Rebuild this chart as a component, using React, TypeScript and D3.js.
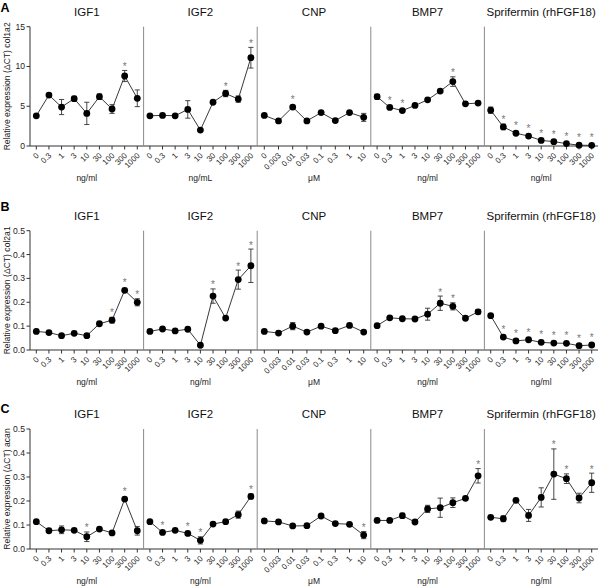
import React from "react";
import * as d3 from "d3";

// ---------- Data ----------
const concNg = ["0", "0.3", "1", "3", "10", "30", "100", "300", "1000"];
const concUM = ["0", "0.003", "0.01", "0.03", "0.1", "0.3", "1", "10"];

const panelTitles = ["IGF1", "IGF2", "CNP", "BMP7", "Sprifermin (rhFGF18)"];
const rowLetters = ["A", "B", "C"];
const rowGenes = ["col1a2", "col2a1", "acan"];
const unitsRowA = ["ng/ml", "ng/mL", "μM", "ng/ml", "ng/ml"];
const unitsRowB = ["ng/ml", "ng/ml", "μM", "ng/ml", "ng/ml"];
const unitsRowC = ["ng/ml", "ng/ml", "μM", "ng/ml", "ng/ml"];

const yTicksA = [0, 5, 10, 15];
const yTicksBC = [0, 0.1, 0.2, 0.3, 0.4, 0.5];

// Row A: col1a2
const aIGF1 = [3.8, 6.4, 4.9, 5.95, 4.1, 6.2, 4.65, 8.8, 6.0];
const aIGF1Err = [0.15, 0.2, 0.95, 0.3, 1.4, 0.35, 0.55, 0.7, 1.05];
const aIGF1Sig = [7];
const aIGF2 = [3.8, 3.85, 3.8, 4.6, 2.0, 5.5, 6.6, 5.9, 11.1];
const aIGF2Err = [0.1, 0.1, 0.1, 1.1, 0.1, 0.15, 0.4, 0.4, 1.3];
const aIGF2Sig = [6, 8];
const aCNP = [3.85, 3.15, 4.9, 3.15, 4.2, 3.2, 4.2, 3.6];
const aCNPErr = [0.1, 0.1, 0.15, 0.1, 0.1, 0.1, 0.1, 0.5];
const aCNPSig = [2];
const aBMP7 = [6.2, 4.85, 4.45, 5.1, 5.8, 6.9, 8.1, 5.3, 5.4];
const aBMP7Err = [0.3, 0.15, 0.15, 0.1, 0.1, 0.1, 0.6, 0.1, 0.1];
const aBMP7Sig = [1, 2, 6];
const aSpri = [4.5, 2.4, 1.6, 1.25, 0.7, 0.55, 0.3, 0.1, 0.08];
const aSpriErr = [0.4, 0.35, 0.15, 0.1, 0.1, 0.1, 0.1, 0.05, 0.05];
const aSpriSig = [1, 2, 3, 4, 5, 6, 7, 8];

// Row B: col2a1
const bIGF1 = [0.078, 0.073, 0.06, 0.07, 0.06, 0.11, 0.125, 0.25, 0.2];
const bIGF1Err = [0.003, 0.003, 0.003, 0.003, 0.008, 0.004, 0.012, 0.008, 0.015];
const bIGF1Sig = [6, 7, 8];
const bIGF2 = [0.078, 0.088, 0.08, 0.087, 0.02, 0.226, 0.134, 0.295, 0.353];
const bIGF2Err = [0.003, 0.003, 0.003, 0.003, 0.003, 0.03, 0.006, 0.04, 0.07];
const bIGF2Sig = [5, 7, 8];
const bCNP = [0.078, 0.071, 0.1, 0.075, 0.1, 0.081, 0.103, 0.075];
const bCNPErr = [0.003, 0.003, 0.015, 0.003, 0.003, 0.003, 0.003, 0.003];
const bCNPSig: number[] = [];
const bBMP7 = [0.102, 0.135, 0.131, 0.13, 0.15, 0.196, 0.183, 0.133, 0.16];
const bBMP7Err = [0.003, 0.004, 0.003, 0.003, 0.025, 0.03, 0.015, 0.003, 0.01];
const bBMP7Sig = [5, 6];
const bSpri = [0.144, 0.054, 0.038, 0.043, 0.032, 0.029, 0.028, 0.018, 0.021];
const bSpriErr = [0.003, 0.004, 0.003, 0.003, 0.003, 0.003, 0.003, 0.003, 0.003];
const bSpriSig = [1, 2, 3, 4, 5, 6, 7, 8];

// Row C: acan
const cIGF1 = [0.114, 0.076, 0.08, 0.078, 0.051, 0.083, 0.067, 0.208, 0.076];
const cIGF1Err = [0.003, 0.003, 0.016, 0.003, 0.02, 0.003, 0.003, 0.005, 0.018];
const cIGF1Sig = [4, 7];
const cIGF2 = [0.114, 0.069, 0.078, 0.065, 0.036, 0.104, 0.114, 0.143, 0.219];
const cIGF2Err = [0.003, 0.003, 0.003, 0.003, 0.015, 0.003, 0.003, 0.015, 0.01];
const cIGF2Sig = [1, 3, 4, 8];
const cCNP = [0.117, 0.113, 0.096, 0.097, 0.1375, 0.106, 0.103, 0.058];
const cCNPErr = [0.003, 0.003, 0.003, 0.003, 0.003, 0.003, 0.003, 0.015];
const cCNPSig = [7];
const cBMP7 = [0.119, 0.119, 0.139, 0.1125, 0.167, 0.172, 0.193, 0.211, 0.305];
const cBMP7Err = [0.003, 0.003, 0.01, 0.006, 0.015, 0.04, 0.02, 0.008, 0.03];
const cBMP7Sig = [8];
const cSpri = [0.132, 0.126, 0.203, 0.14, 0.215, 0.312, 0.293, 0.2125, 0.276];
const cSpriErr = [0.003, 0.012, 0.003, 0.025, 0.04, 0.105, 0.02, 0.02, 0.04];
const cSpriSig = [5, 6, 8];

// ---------- Layout ----------
const W = 599;
const H = 587;
const LEFT = 30;
const RIGHT = 598;
const ROW_TOP = [26.7, 230.7, 429];
const ROW_BOTTOM = [146, 350, 549];
const LETTER_Y = [11.5, 211, 413];
const FONT = "'Liberation Sans', Arial, Helvetica, sans-serif";

type Panel = { vals: number[]; errs: number[]; sig: number[]; cats: string[] };

const rows: { panels: Panel[]; ticks: number[]; max: number; units: string[]; fmt: (v: number) => string }[] = [
  {
    panels: [
      { vals: aIGF1, errs: aIGF1Err, sig: aIGF1Sig, cats: concNg },
      { vals: aIGF2, errs: aIGF2Err, sig: aIGF2Sig, cats: concNg },
      { vals: aCNP, errs: aCNPErr, sig: aCNPSig, cats: concUM },
      { vals: aBMP7, errs: aBMP7Err, sig: aBMP7Sig, cats: concNg },
      { vals: aSpri, errs: aSpriErr, sig: aSpriSig, cats: concNg },
    ],
    ticks: yTicksA,
    max: 15,
    units: unitsRowA,
    fmt: d3.format("d"),
  },
  {
    panels: [
      { vals: bIGF1, errs: bIGF1Err, sig: bIGF1Sig, cats: concNg },
      { vals: bIGF2, errs: bIGF2Err, sig: bIGF2Sig, cats: concNg },
      { vals: bCNP, errs: bCNPErr, sig: bCNPSig, cats: concUM },
      { vals: bBMP7, errs: bBMP7Err, sig: bBMP7Sig, cats: concNg },
      { vals: bSpri, errs: bSpriErr, sig: bSpriSig, cats: concNg },
    ],
    ticks: yTicksBC,
    max: 0.5,
    units: unitsRowB,
    fmt: d3.format(".1f"),
  },
  {
    panels: [
      { vals: cIGF1, errs: cIGF1Err, sig: cIGF1Sig, cats: concNg },
      { vals: cIGF2, errs: cIGF2Err, sig: cIGF2Sig, cats: concNg },
      { vals: cCNP, errs: cCNPErr, sig: cCNPSig, cats: concUM },
      { vals: cBMP7, errs: cBMP7Err, sig: cBMP7Sig, cats: concNg },
      { vals: cSpri, errs: cSpriErr, sig: cSpriSig, cats: concNg },
    ],
    ticks: yTicksBC,
    max: 0.5,
    units: unitsRowC,
    fmt: d3.format(".1f"),
  },
];

const panelBand = d3
  .scaleBand<number>()
  .domain(d3.range(5))
  .range([LEFT, RIGHT])
  .paddingInner(0)
  .paddingOuter(0);

function Row({ ri }: { ri: number }) {
  const row = rows[ri];
  const top = ROW_TOP[ri];
  const bottom = ROW_BOTTOM[ri];
  const y = d3.scaleLinear().domain([0, row.max]).range([bottom, top]);
  const pw = panelBand.bandwidth();
  const lineGen = (x: d3.ScalePoint<string>, p: Panel) =>
    d3
      .line<number>()
      .x((_, i) => x(p.cats[i]) as number)
      .y((v) => y(v))(p.vals) as string;

  return (
    <g>
      <text x={0.5} y={LETTER_Y[ri]} fontFamily={FONT} fontWeight="bold" fontSize={12.5} fill="#000">
        {rowLetters[ri]}
      </text>
      <text
        transform={`translate(10,${(top + bottom) / 2}) rotate(-90)`}
        textAnchor="middle"
        fontFamily={FONT}
        fontSize={8.6}
        fill="#222"
      >
        {`Relative expression (ΔCT) ${rowGenes[ri]}`}
      </text>
      <line x1={LEFT} x2={LEFT} y1={top} y2={bottom} stroke="#333" strokeWidth={1} />
      {row.ticks.map((t) => (
        <g key={t}>
          <line x1={LEFT - 3.5} x2={LEFT} y1={y(t)} y2={y(t)} stroke="#333" strokeWidth={1} />
          <text
            x={LEFT - 5}
            y={y(t)}
            dy="0.35em"
            textAnchor="end"
            fontFamily={FONT}
            fontSize={8.6}
            fill="#222"
          >
            {row.fmt(t)}
          </text>
        </g>
      ))}
      <line x1={LEFT} x2={RIGHT} y1={bottom} y2={bottom} stroke="#333" strokeWidth={1} />
      {row.panels.map((p, pi) => {
        const x0 = panelBand(pi) as number;
        const x = d3.scalePoint<string>().domain(p.cats).range([x0, x0 + pw]).padding(0.5);
        return (
          <g key={pi}>
            {pi > 0 && (
              <line x1={x0} x2={x0} y1={top} y2={bottom} stroke="#8a8a8a" strokeWidth={1} />
            )}
            <text
              x={x0 + pw / 2}
              y={top - 11}
              textAnchor="middle"
              fontFamily={FONT}
              fontSize={11.5}
              fill="#111"
            >
              {panelTitles[pi]}
            </text>
            {p.cats.map((c) => (
              <g key={c}>
                <line
                  x1={x(c)}
                  x2={x(c)}
                  y1={bottom}
                  y2={bottom + 3.5}
                  stroke="#333"
                  strokeWidth={1}
                />
                <text
                  transform={`translate(${(x(c) as number) + 3},${bottom + 10}) rotate(-45)`}
                  textAnchor="end"
                  fontFamily={FONT}
                  fontSize={8}
                  fill="#222"
                >
                  {c}
                </text>
              </g>
            ))}
            <text
              x={x0 + pw / 2}
              y={bottom + 35}
              textAnchor="middle"
              fontFamily={FONT}
              fontSize={8.5}
              fill="#222"
            >
              {row.units[pi]}
            </text>
            <path d={lineGen(x, p)} fill="none" stroke="#222" strokeWidth={0.9} />
            {p.vals.map((v, i) => {
              const cx = x(p.cats[i]) as number;
              const e = p.errs[i];
              return (
                <g key={i}>
                  <line x1={cx} x2={cx} y1={y(v - e)} y2={y(v + e)} stroke="#333" strokeWidth={0.9} />
                  <line x1={cx - 2.6} x2={cx + 2.6} y1={y(v + e)} y2={y(v + e)} stroke="#333" strokeWidth={0.9} />
                  <line x1={cx - 2.6} x2={cx + 2.6} y1={y(Math.max(0, v - e))} y2={y(Math.max(0, v - e))} stroke="#333" strokeWidth={0.9} />
                  <circle cx={cx} cy={y(v)} r={3.4} fill="#000" />
                </g>
              );
            })}
            {p.sig.map((i) => {
              const cx = x(p.cats[i]) as number;
              const topY = Math.min(y(p.vals[i] + p.errs[i]), y(p.vals[i]) - 3.4);
              return (
                <text
                  key={`s${i}`}
                  x={cx}
                  y={topY - 0.5}
                  textAnchor="middle"
                  fontFamily={FONT}
                  fontSize={10}
                  fill="#777"
                >
                  *
                </text>
              );
            })}
          </g>
        );
      })}
    </g>
  );
}

export default function App() {
  return (
    <svg
      width={W}
      height={H}
      viewBox={`0 0 ${W} ${H}`}
      style={{ position: "absolute", left: 0, top: 0, background: "#fff" }}
    >
      <rect x={0} y={0} width={W} height={H} fill="#fff" />
      {[0, 1, 2].map((ri) => (
        <Row key={ri} ri={ri} />
      ))}
    </svg>
  );
}
